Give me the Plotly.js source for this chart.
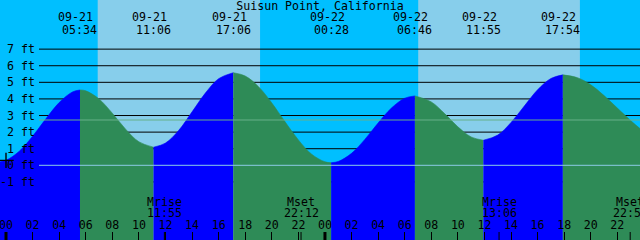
<!DOCTYPE html>
<html><head><meta charset="utf-8">
<script src="https://cdn.plot.ly/plotly-3.0.1.min.js"></script>
<style>html,body{margin:0;padding:0;background:#00BFFF;}#chart{width:640px;height:240px;}</style>
</head><body><div id="chart"></div>
<script>
// ---- data ----
const stationTitle = "Suisun Point, California";
// tide curve: hours after 2025-09-21 00:00, height in feet
const tideHours = [-0.583, 0, 1, 2, 3, 4, 5, 5.567, 6, 7, 8, 9, 10, 11.1, 12, 13, 14, 15, 16, 17.1, 18, 19, 20, 21, 22, 23, 24, 24.467, 25, 26, 27, 28, 29, 30, 30.767, 32, 33, 34, 35, 35.917, 37, 38, 39, 40, 41, 41.9, 43, 44, 45, 46, 47, 47.8];
const tideFeet  = [0.20, 0.30, 0.85, 1.75, 2.80, 3.78, 4.42, 4.54, 4.49, 4.00, 3.14, 2.18, 1.42, 1.09, 1.34, 2.11, 3.22, 4.35, 5.22, 5.58, 5.38, 4.74, 3.76, 2.62, 1.53, 0.67, 0.21, 0.16, 0.23, 0.72, 1.56, 2.55, 3.45, 4.04, 4.18, 3.82, 3.12, 2.32, 1.71, 1.51, 1.82, 2.58, 3.57, 4.55, 5.23, 5.45, 5.28, 4.85, 4.20, 3.45, 2.70, 2.15];
// high / low tide events (top labels)
const extremeStamps = ["2025-09-20 23:25","2025-09-21 05:34","2025-09-21 11:06","2025-09-21 17:06","2025-09-22 00:28","2025-09-22 06:46","2025-09-22 11:55","2025-09-22 17:54"];
// sun
const sunriseStamps = ["2025-09-21 06:54","2025-09-22 07:01"];
const sunsetStamps  = ["2025-09-21 19:07","2025-09-22 19:11"];
// moon events
const moonEvents = ["Mrise","Mset","Mrise","Mset"];
const moonStamps = ["2025-09-21 11:55","2025-09-21 22:12","2025-09-22 13:06","2025-09-22 22:58"];
// day boundaries
const dayStarts = ["2025-09-21 00:00","2025-09-22 00:00"];
// y tick values (ft)
const yTickFeet = [7, 6, 5, 4, 3, 2, 1, 0, -1];
const datumFeet = 0;
const mslFeet = 2.73;
// "now" mark
const nowHours = [0];
const nowFeet = [0.30];

// ---- styles ----
const C = {night:"#00BFFF", day:"#87CEEB", rise:"#0000FF", fall:"#2E8B57", datum:"#8CCBE6", msl:"#66B08A"};
const FONT = {family:"DejaVu Sans Mono, monospace", size:11.6, color:"#000"};
const W = 640, H = 240;
const yRange = [-4.5, 9.96];

function hToDate(h){
  const d = new Date(Date.UTC(2025, 8, 21) + Math.round(h*3600000));
  return d.toISOString().slice(0,19).replace('T',' ');
}
const xRange = [hToDate(-0.4515), hToDate(47.705)];

// split curve into rising / falling segments
const segs = [];
let cur = null;
for (let i = 0; i < tideHours.length - 1; i++) {
  const dir = tideFeet[i+1] > tideFeet[i] ? 1 : -1;
  if (!cur || cur.dir !== dir) {
    cur = {dir, x:[hToDate(tideHours[i])], y:[tideFeet[i]]};
    segs.push(cur);
  }
  cur.x.push(hToDate(tideHours[i+1]));
  cur.y.push(tideFeet[i+1]);
}
const traces = [];
segs.forEach(s => {
  const col = s.dir > 0 ? C.rise : C.fall;
  traces.push({x:[s.x[0], s.x[s.x.length-1]], y:[yRange[0]-1, yRange[0]-1], mode:'lines',
    line:{width:0, color:col}, hoverinfo:'skip', showlegend:false});
  traces.push({x:s.x, y:s.y, mode:'lines', line:{shape:'spline', width:0.6, color:col},
    fill:'tonexty', fillcolor:col, hoverinfo:'skip', showlegend:false});
});
traces.push({x:nowHours.map(hToDate), y:nowFeet, mode:'markers',
  marker:{symbol:'cross-thin', size:11, line:{width:1.4, color:'#000'}, color:'#000'},
  hoverinfo:'skip', showlegend:false});

const shapes = [];
sunriseStamps.forEach((sr, i) => shapes.push({type:'rect', xref:'x', yref:'paper', x0:sr, x1:sunsetStamps[i], y0:0, y1:1,
  fillcolor:C.day, line:{width:0}, layer:'below'}));
yTickFeet.forEach(v => { if (v !== datumFeet) shapes.push({type:'line', xref:'paper', yref:'y', x0:39/W, x1:1, y0:v, y1:v,
  line:{color:'#000', width:1}, layer:'below'}); });
shapes.push({type:'line', xref:'paper', yref:'y', x0:39/W, x1:1, y0:datumFeet, y1:datumFeet, line:{color:C.datum, width:1}, layer:'above'});
shapes.push({type:'line', xref:'paper', yref:'y', x0:39/W, x1:1, y0:mslFeet, y1:mslFeet, line:{color:C.msl, width:1}, layer:'above'});
dayStarts.forEach(d => shapes.push({type:'line', xref:'x', yref:'paper', x0:d, x1:d, y0:0, y1:8/H, line:{color:'#000', width:3}, layer:'above'}));
moonStamps.forEach(d => shapes.push({type:'line', xref:'x', yref:'paper', x0:d, x1:d, y0:0, y1:8/H, line:{color:'#000', width:1}, layer:'above'}));

const annotations = [];
yTickFeet.forEach(v => annotations.push({xref:'paper', yref:'y', x:36/W, y:v, xanchor:'right', yanchor:'middle',
  text:v + " ft", showarrow:false, font:FONT, borderpad:0}));
extremeStamps.forEach(s => {
  annotations.push({xref:'x', yref:'paper', x:s, y:1-17.5/H, xanchor:'center', yanchor:'middle', xshift:-4,
    text:s.slice(5,10), showarrow:false, font:FONT, borderpad:0});
  annotations.push({xref:'x', yref:'paper', x:s, y:1-29.5/H, xanchor:'center', yanchor:'middle',
    text:s.slice(11,16), showarrow:false, font:FONT, borderpad:0});
});
moonStamps.forEach((s, i) => {
  annotations.push({xref:'x', yref:'paper', x:s, y:1-202/H, xanchor:'center', yanchor:'middle',
    text:moonEvents[i], showarrow:false, font:FONT, borderpad:0});
  annotations.push({xref:'x', yref:'paper', x:s, y:1-213/H, xanchor:'center', yanchor:'middle',
    text:s.slice(11,16), showarrow:false, font:FONT, borderpad:0});
});

const layout = {
  width:W, height:H, margin:{l:0, r:0, t:0, b:0, pad:0},
  paper_bgcolor:C.night, plot_bgcolor:C.night, showlegend:false, hovermode:false,
  title:{text:stationTitle, x:0.5, xanchor:'center', y:1-6/H, yanchor:'middle', yref:'container', font:FONT},
  xaxis:{type:'date', range:xRange, showgrid:false, zeroline:false, showline:false,
    ticks:'inside', ticklen:8, tickwidth:1, tickcolor:'#000', dtick:7200000, tickformat:'%H',
    ticklabelposition:'inside', ticklabeloverflow:'allow', ticklabelstandoff:0, tickfont:FONT, fixedrange:true},
  yaxis:{range:yRange, showgrid:false, zeroline:false, showticklabels:false, ticks:'', showline:false, fixedrange:true},
  shapes, annotations
};
Plotly.newPlot('chart', traces, layout, {staticPlot:true, displayModeBar:false});
</script></body></html>
